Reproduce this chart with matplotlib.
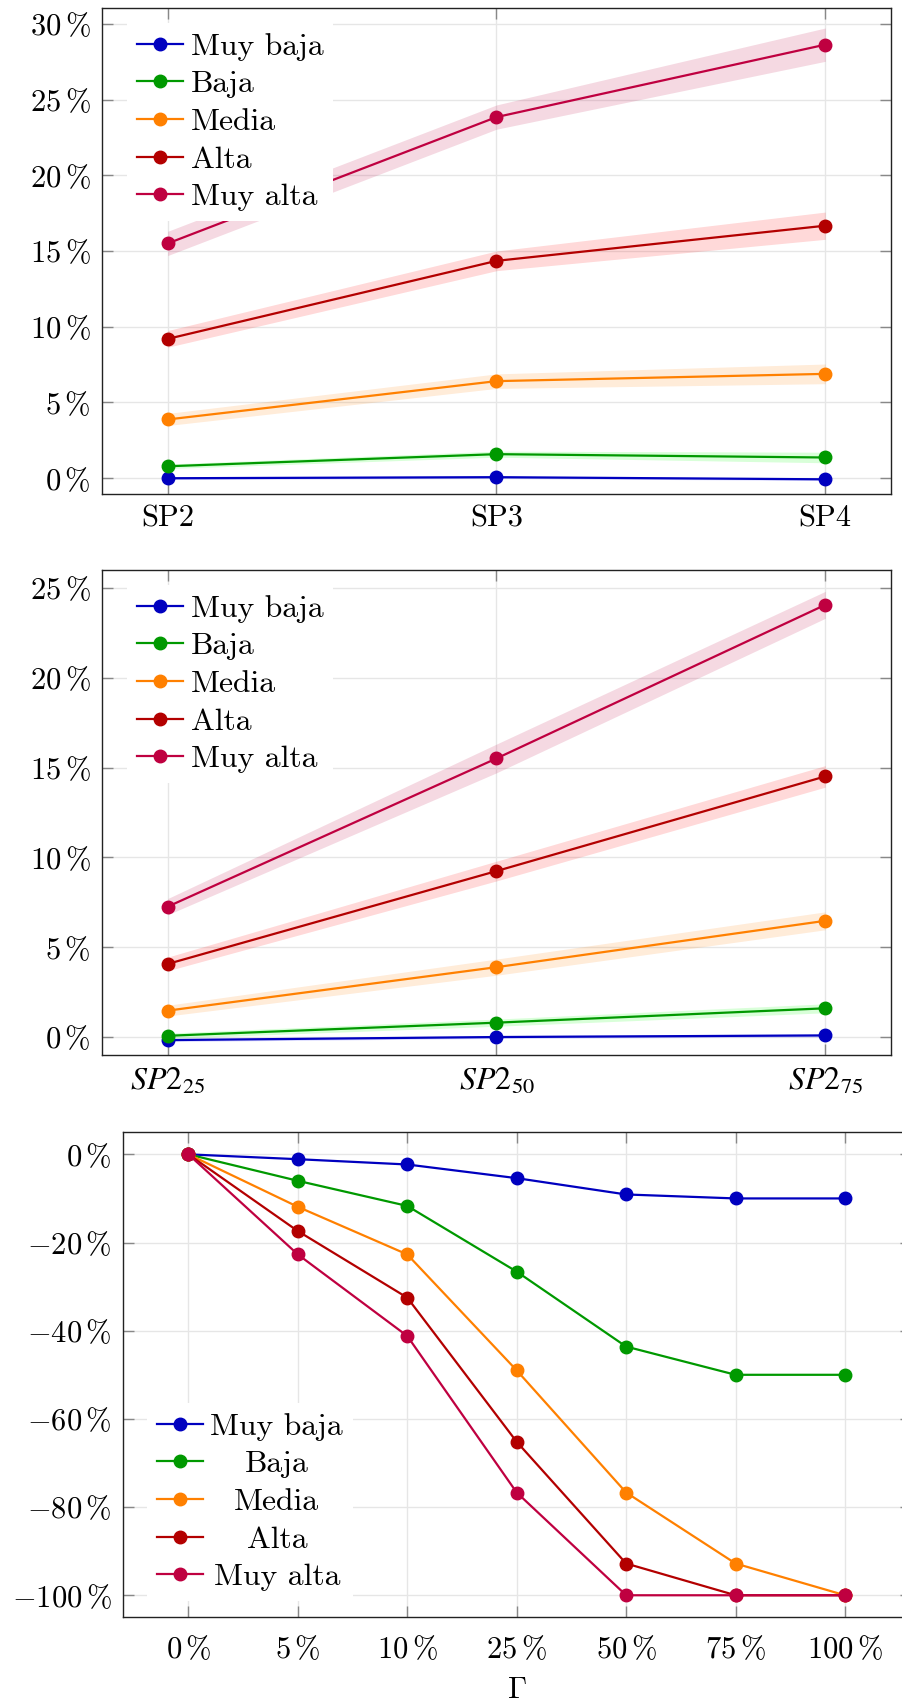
import numpy as np
import matplotlib.pyplot as plt

plt.rcParams['font.family'] = ['cmr10']
plt.rcParams['mathtext.fontset'] = 'cm'
plt.rcParams['axes.formatter.use_mathtext'] = True

series = ['Muy baja', 'Baja', 'Media', 'Alta', 'Muy alta']
line_colors = ['#0000bf', '#009900', '#ff8000', '#b30000', '#bf0040']
band_colors = ['#0000ff', '#00ff00', '#ff8000', '#ff0000', '#bf0040']

# top panel: SP2 / SP3 / SP4
sp_labels = ['SP2', 'SP3', 'SP4']
sp_mean = [
    [0.00, 0.07, -0.07],
    [0.79, 1.59, 1.37],
    [3.88, 6.41, 6.89],
    [9.20, 14.35, 16.67],
    [15.50, 23.84, 28.62],
]
sp_err = [
    [0.08, 0.08, 0.08],
    [0.15, 0.20, 0.35],
    [0.40, 0.48, 0.65],
    [0.55, 0.65, 0.90],
    [0.80, 0.80, 1.10],
]
sp_yticks = [0, 5, 10, 15, 20, 25, 30]

# middle panel: SP2 at 25 / 50 / 75
q_labels = [r'$\mathit{SP2}_{\mathit{25}}$', r'$\mathit{SP2}_{\mathit{50}}$', r'$\mathit{SP2}_{\mathit{75}}$']
q_mean = [
    [-0.17, 0.00, 0.09],
    [0.07, 0.80, 1.60],
    [1.47, 3.89, 6.47],
    [4.07, 9.24, 14.51],
    [7.26, 15.51, 24.06],
]
q_err = [
    [0.08, 0.08, 0.08],
    [0.15, 0.20, 0.25],
    [0.30, 0.45, 0.50],
    [0.38, 0.55, 0.60],
    [0.45, 0.80, 0.75],
]
q_yticks = [0, 5, 10, 15, 20, 25]

# bottom panel: change vs Gamma
gamma_labels = ['0', '5', '10', '25', '50', '75', '100']
gamma_change = [
    [0.0, -1.1, -2.3, -5.4, -9.1, -10.0, -10.0],
    [0.0, -6.0, -11.7, -26.6, -43.6, -50.0, -50.0],
    [0.0, -11.9, -22.7, -49.0, -76.7, -92.8, -100.0],
    [0.0, -17.4, -32.5, -65.2, -92.8, -100.0, -100.0],
    [0.0, -22.7, -41.2, -76.7, -100.0, -100.0, -100.0],
]
gamma_yticks = [0, -20, -40, -60, -80, -100]

FS = 22
LFS = 22.8
W, H = 903., 1701.


def place(fig, left, right, top, bottom):
    return fig.add_axes([left / W, 1 - bottom / H, (right - left) / W, (bottom - top) / H])


def style(ax):
    ax.grid(True, color='#e6e6e6', lw=1)
    ax.set_axisbelow(True)
    ax.tick_params(direction='in', length=8, width=1, color='#888888',
                   top=True, right=True, labelsize=FS, pad=8)
    for s in ax.spines.values():
        s.set_color('#222222')
        s.set_linewidth(1)


def pct(v):
    return r'$%d\,\%%$' % v


def band_panel(ax, means, errs):
    x = np.arange(len(means[0]))
    for m, e, bc in zip(means, errs, band_colors):
        m = np.array(m)
        e = np.array(e)
        ax.fill_between(x, m - e, m + e, color=bc, alpha=0.15, lw=0)
    for m, lc, name in zip(means, line_colors, series):
        ax.plot(x, m, color=lc, lw=1.6, marker='o', ms=9, label=name)


def legend(ax, **kw):
    leg = ax.legend(fontsize=LFS, handlelength=1.45, handletextpad=0.25, borderpad=0.3,
                    labelspacing=0.3, borderaxespad=0, fancybox=False,
                    facecolor='white', edgecolor='none', framealpha=1, **kw)
    return leg


fig = plt.figure(figsize=(W / 100, H / 100), dpi=100)

# top
ax1 = place(fig, 102, 891, 8, 494)
style(ax1)
band_panel(ax1, sp_mean, sp_err)
ax1.set_xlim(-0.2, 2.2)
ax1.set_ylim(-1.04, 31.04)
ax1.set_xticks(range(3))
ax1.set_xticklabels(sp_labels)
ax1.set_yticks(sp_yticks)
ax1.set_yticklabels([pct(v) for v in sp_yticks])
legend(ax1, loc='upper left', bbox_to_anchor=(0.032, 0.969))

# middle
ax2 = place(fig, 102, 891, 570, 1055)
style(ax2)
band_panel(ax2, q_mean, q_err)
ax2.set_xlim(-0.2, 2.2)
ax2.set_ylim(-1.0, 26.0)
ax2.set_xticks(range(3))
ax2.set_xticklabels(q_labels)
for t in ax2.get_xticklabels():
    t.set_math_fontfamily('stix')
    t.set_fontsize(23)
ax2.set_yticks(q_yticks)
ax2.set_yticklabels([pct(v) for v in q_yticks])
legend(ax2, loc='upper left', bbox_to_anchor=(0.032, 0.969))

# bottom
ax3 = place(fig, 122.7, 910.7, 1132.3, 1617.3)
style(ax3)
x = np.arange(len(gamma_labels))
for m, lc, name in zip(gamma_change, line_colors, series):
    ax3.plot(x, m, color=lc, lw=1.6, marker='o', ms=9, label=name)
ax3.set_xlim(-0.6, 6.6)
ax3.set_ylim(-105, 5)
ax3.set_xticks(x)
ax3.set_xticklabels([r'$%s\,\%%$' % g for g in gamma_labels])
ax3.tick_params(axis='x', pad=13)
ax3.set_yticks(gamma_yticks)
ax3.set_yticklabels([pct(v) for v in gamma_yticks])
ax3.set_xlabel(r'$\Gamma$', fontsize=FS, labelpad=9)
leg3 = legend(ax3, loc='lower left', bbox_to_anchor=(0.031, 0.034))

# center the labels of the bottom legend inside the label column
r = fig.canvas.get_renderer()
widths = [t.get_window_extent(r).width for t in leg3.get_texts()]
for t, w in zip(leg3.get_texts(), widths):
    t.set_position(((max(widths) - w) / 2, 0))

fig.savefig('out.png', dpi=100)
